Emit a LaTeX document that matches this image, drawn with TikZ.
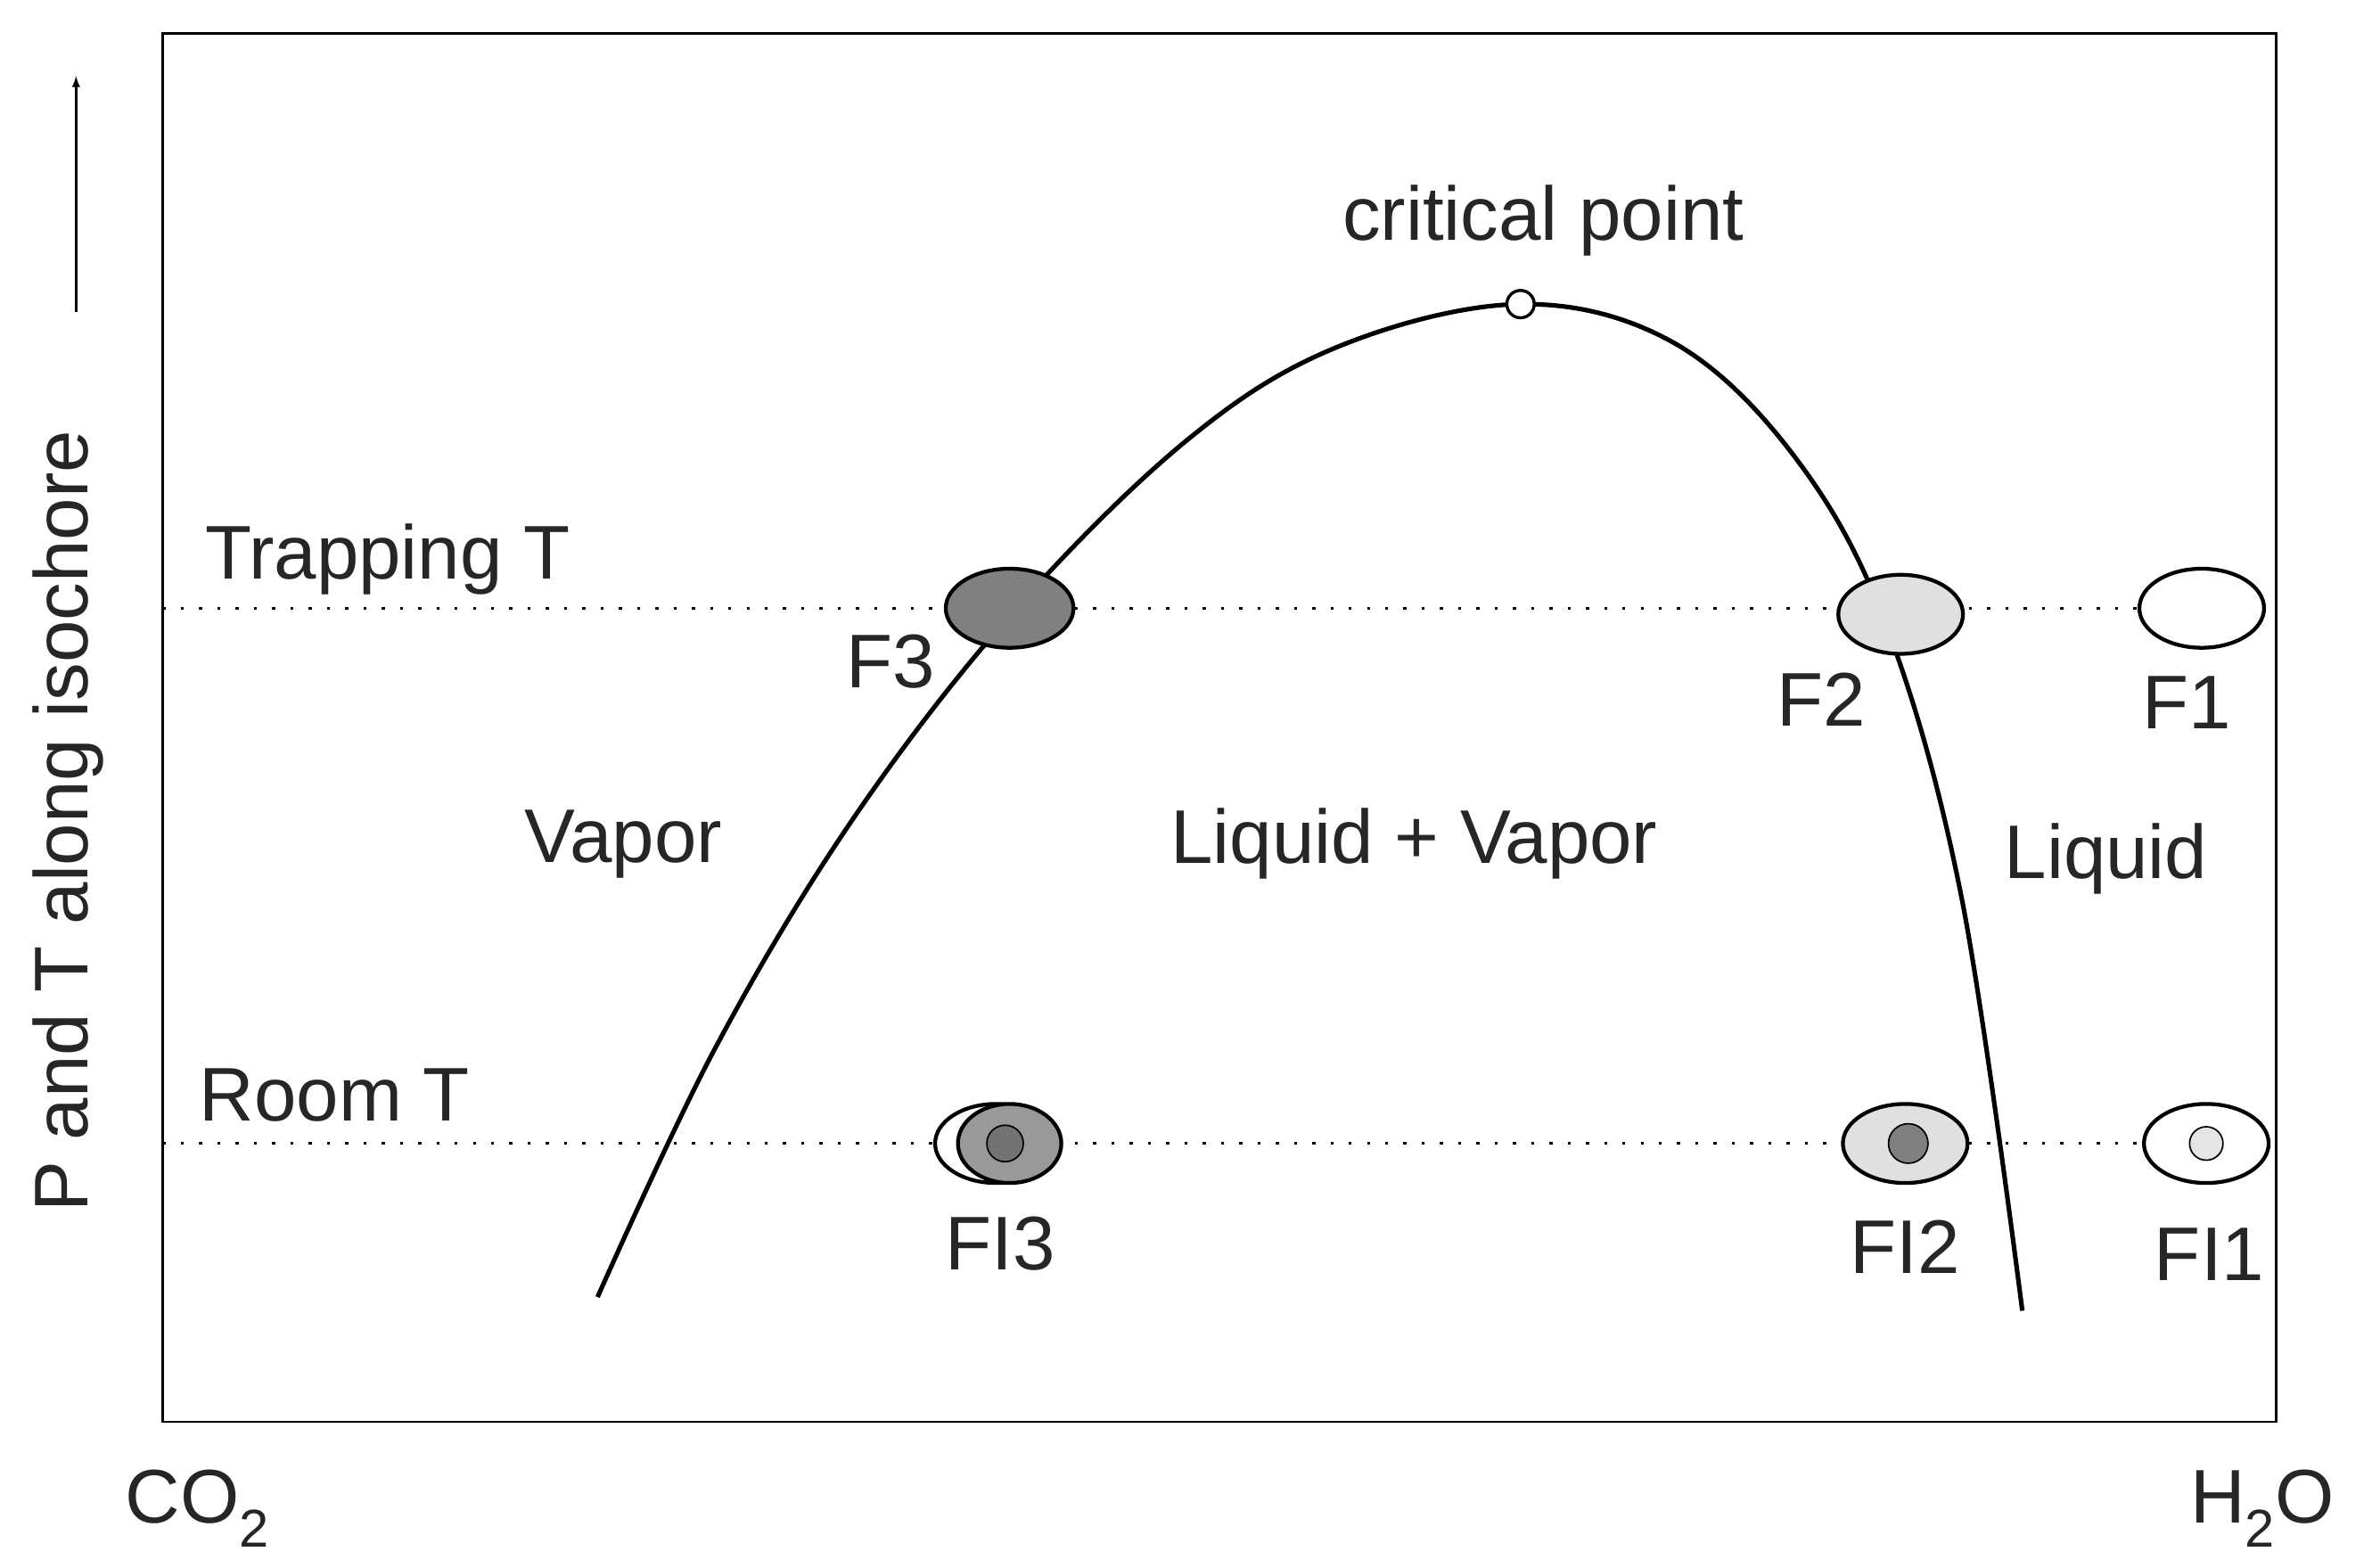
\documentclass[tikz,border=0pt]{standalone}
\usepackage{fontspec}
\setmainfont{Liberation Sans}
\begin{document}
\begin{tikzpicture}[x=1pt,y=-1pt,
  lbl/.style={font=\fontsize{50}{60}\selectfont, text=black!85},
  incl/.style={draw=black, line width=2.5pt},
  dotl/.style={line width=2pt, dotted, dash pattern=on 2pt off 10pt}]
\useasboundingbox (0,0) rectangle (1560,1031);
\draw[line width=1.5pt] (107,22) rectangle (1497,935);
\draw[line width=1.5pt,-latex] (50,205) -- (50,50);
\node[lbl,rotate=90] (ylab) at (45,540) {P and T along isochore};
\node[lbl] (co2) at (130,992) {CO\textsubscript{2}};
\node[lbl] (h2o) at (1488,992) {H\textsubscript{2}O};
\draw[dotl] (107,400) -- (1497,400);
\draw[dotl] (107,752) -- (1497,752);
\draw[line width=3pt] plot[smooth,tension=0.6] coordinates {(393,853) (470,690) (560,540) (664,405) (780,290) (880,228) (1000,200) (1100,225) (1180,300) (1240,410) (1290,590) (1330,862)};
\node[circle,draw,line width=2pt,fill=white,inner sep=0pt,minimum size=18pt] (cp) at (1000,200) {};
\node[lbl] (cpl) at (1015,145) {critical point};
\node[lbl] (tt) at (255,368) {Trapping T};
\node[lbl] (rt) at (220,720) {Room T};
\node[lbl] (vap) at (410,555) {Vapor};
\node[lbl] (lv) at (930,555) {Liquid + Vapor};
\node[lbl] (liq) at (1385,565) {Liquid};
\draw[incl,fill=black!50] (664,400) ellipse [x radius=42,y radius=26];
\node[lbl] (f3) at (586,435) {F3};
\draw[incl,fill=black!12] (1250,404) ellipse [x radius=41,y radius=26];
\node[lbl] (f2) at (1198,460) {F2};
\draw[incl,fill=white] (1448,400) ellipse [x radius=41,y radius=26];
\node[lbl] (f1) at (1438,462) {F1};
\draw[incl,fill=white] (655,752) ellipse [x radius=40,y radius=26];
\draw[incl,fill=black!40] (664,752) ellipse [x radius=34,y radius=26];
\draw[line width=1pt,fill=black!55] (661,752) circle (12);
\node[lbl] (fi3) at (658,818) {FI3};
\draw[incl,fill=black!12] (1253,752) ellipse [x radius=41,y radius=26];
\draw[line width=1pt,fill=black!50] (1255,752) circle (13);
\node[lbl] (fi2) at (1253,820) {FI2};
\draw[incl,fill=white] (1451,752) ellipse [x radius=41,y radius=26];
\draw[line width=1pt,fill=black!10] (1451,752) circle (11);
\node[lbl] (fi1) at (1453,825) {FI1};
\end{tikzpicture}
\end{document}
